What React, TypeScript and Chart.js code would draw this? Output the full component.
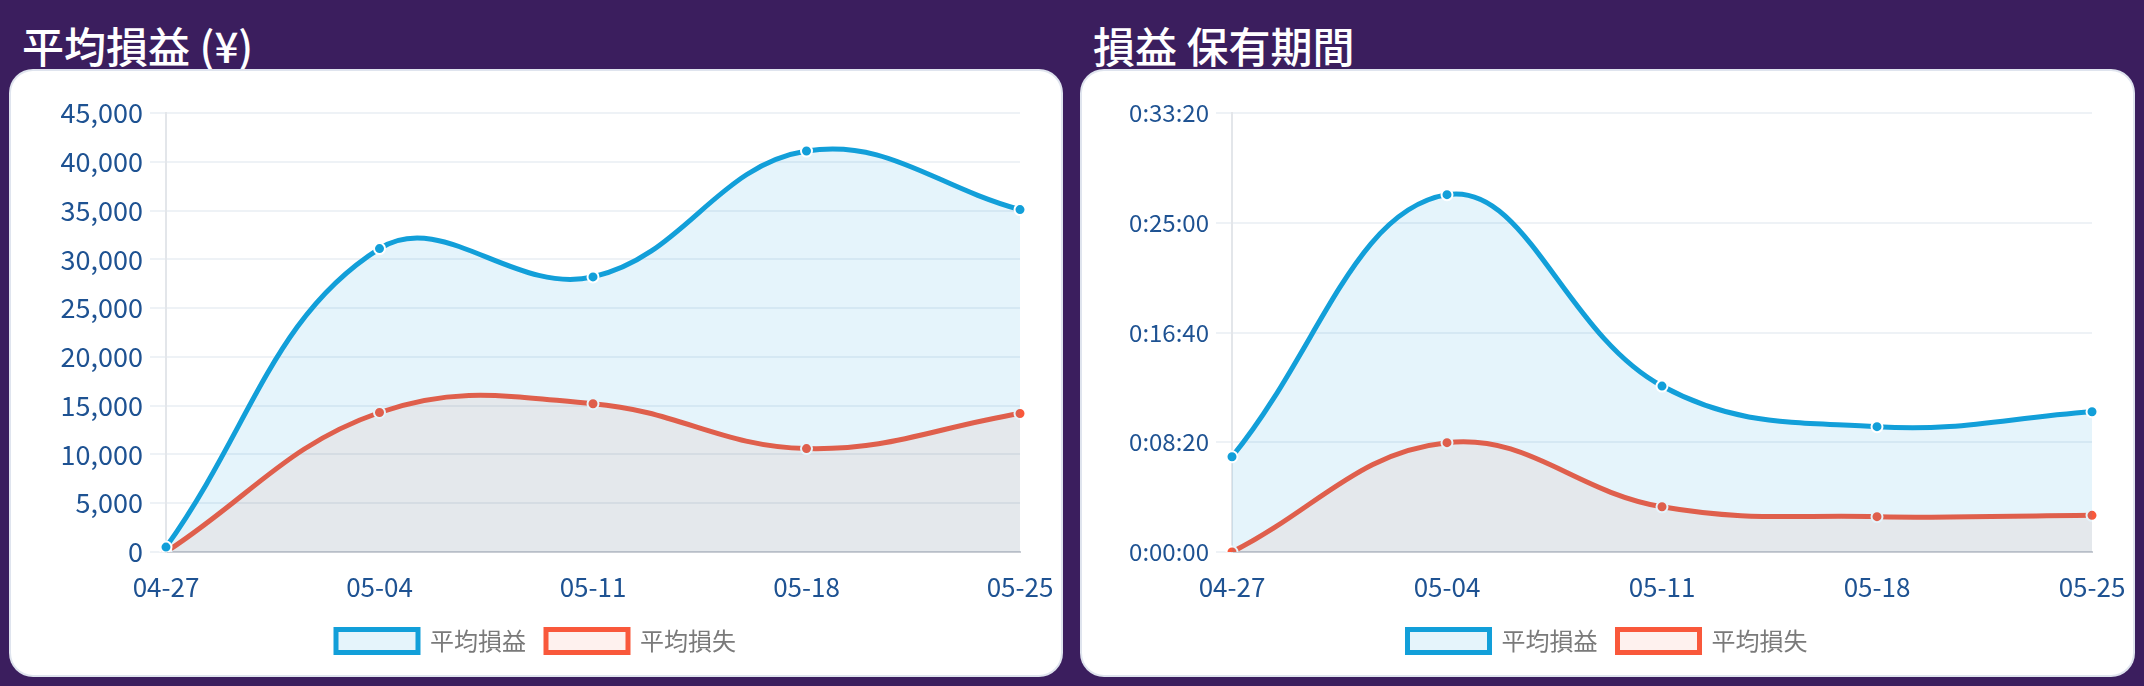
import React, { useEffect, useRef } from 'react';
import { Chart, registerables } from 'chart.js';

Chart.register(...registerables);

// ---- data ----
const dateLabels = ['04-27', '05-04', '05-11', '05-18', '05-25'];
const seriesNames = ['平均損益', '平均損失'];
const avgProfitYen = [500, 31100, 28200, 41100, 35100];
const avgLossYen = [0, 14300, 15200, 10600, 14200];
const holdProfitSec = [434, 1628, 756, 571, 639];
const holdLossSec = [0, 498, 206, 161, 167];
const yenAxis = { max: 45000, step: 5000 };
const secAxis = { max: 2000, step: 500 };

const FONT = '"Noto Sans CJK JP", "Noto Sans", sans-serif';
const BLUE = '#129fd9';
const RED = '#f9583b';
const BLUE_FILL = 'rgba(18,159,217,0.11)';
const RED_FILL = 'rgba(249,88,59,0.085)';
const TICK_COLOR = '#1e5292';
const PURPLE = '#3b1e5e';

function fmtYen(v: number) {
  return Number(v).toLocaleString('en-US');
}
function fmtHms(v: number) {
  const s = Math.round(Number(v));
  const h = Math.floor(s / 3600);
  const m = Math.floor((s % 3600) / 60);
  const ss = s % 60;
  return `${h}:${String(m).padStart(2, '0')}:${String(ss).padStart(2, '0')}`;
}

type CardProps = {
  left: number;
  width: number;
  title: string;
  profit: number[];
  loss: number[];
  axis: { max: number; step: number };
  fmt: (v: number) => string;
  yFontSize: number;
  yWidth: number;
};

const CARD_TOP = 71;
const CARD_H = 604;
const SIDE_PAD = 41;

function LineCard(props: CardProps) {
  const ref = useRef<HTMLCanvasElement | null>(null);
  const { left, width, title, profit, loss, axis, fmt, yFontSize, yWidth } = props;

  useEffect(() => {
    if (!ref.current) return;
    const chart = new Chart(ref.current, {
      type: 'line',
      data: {
        labels: dateLabels,
        datasets: [
          {
            label: seriesNames[0],
            data: profit,
            borderColor: BLUE,
            backgroundColor: BLUE_FILL,
            borderWidth: 5,
            fill: 'origin',
            tension: 0.4,
            pointRadius: 5.5,
            pointBorderWidth: 2,
            pointBorderColor: '#ffffff',
            pointBackgroundColor: BLUE,
          },
          {
            label: seriesNames[1],
            data: loss,
            borderColor: RED,
            backgroundColor: RED_FILL,
            borderWidth: 5,
            fill: 'origin',
            tension: 0.4,
            pointRadius: 5.5,
            pointBorderWidth: 2,
            pointBorderColor: '#ffffff',
            pointBackgroundColor: RED,
          },
        ],
      },
      options: {
        responsive: false,
        devicePixelRatio: 1,
        animation: false,
        layout: { padding: { top: 42, right: SIDE_PAD, left: SIDE_PAD, bottom: 12 } },
        plugins: {
          tooltip: { enabled: false },
          legend: {
            position: 'bottom',
            labels: {
              boxWidth: 82,
              boxHeight: 23,
              padding: 20,
              color: '#7a7a7a',
              font: { family: FONT, size: 24 },
              generateLabels: (c: any) =>
                (Chart.defaults.plugins.legend.labels as any)
                  .generateLabels(c)
                  .map((l: any) => ({ ...l, lineWidth: 5 })),
            },
          },
        },
        scales: {
          x: {
            afterFit: (s: any) => {
              s.height = 57;
            },
            grid: { display: false, drawTicks: true, tickLength: 13 },
            border: { display: true, color: '#c9cdd4', width: 2 },
            ticks: {
              color: TICK_COLOR,
              padding: 7,
              maxRotation: 0,
              font: { family: FONT, size: 26 },
            },
          },
          y: {
            min: 0,
            max: axis.max,
            afterFit: (s: any) => {
              s.width = yWidth - SIDE_PAD;
            },
            grid: { color: '#eef2f6', lineWidth: 2, tickLength: 16 },
            border: { display: true, color: '#e3e6ea', width: 2 },
            ticks: {
              stepSize: axis.step,
              color: TICK_COLOR,
              padding: 7,
              font: { family: FONT, size: yFontSize },
              callback: (v: any) => fmt(Number(v)),
            },
          },
        },
      },
    });
    return () => chart.destroy();
  }, []);

  return (
    <>
      <div
        style={{
          position: 'absolute',
          left: left + 11,
          top: 24,
          color: '#ffffff',
          fontFamily: FONT,
          fontSize: 42,
          fontWeight: 500,
          lineHeight: 1,
          whiteSpace: 'nowrap',
        }}
      >
        {title}
      </div>
      <div
        style={{
          position: 'absolute',
          left,
          top: CARD_TOP,
          width,
          height: CARD_H,
          background: '#ffffff',
          borderRadius: 22,
          boxShadow: '0 0 0 2px #dfe4ee',
        }}
      />
      <canvas
        ref={ref}
        width={width}
        height={CARD_H}
        style={{ position: 'absolute', left, top: CARD_TOP, width, height: CARD_H }}
      />
    </>
  );
}

export default function App() {
  return (
    <div
      style={{
        position: 'fixed',
        left: 0,
        top: 0,
        width: 2144,
        height: 686,
        background: PURPLE,
        overflow: 'hidden',
      }}
    >
      <LineCard
        left={11}
        width={1050}
        title="平均損益 (¥)"
        profit={avgProfitYen}
        loss={avgLossYen}
        axis={yenAxis}
        fmt={fmtYen}
        yFontSize={27}
        yWidth={155}
      />
      <LineCard
        left={1082}
        width={1051}
        title="損益 保有期間"
        profit={holdProfitSec}
        loss={holdLossSec}
        axis={secAxis}
        fmt={fmtHms}
        yFontSize={24}
        yWidth={150}
      />
    </div>
  );
}
